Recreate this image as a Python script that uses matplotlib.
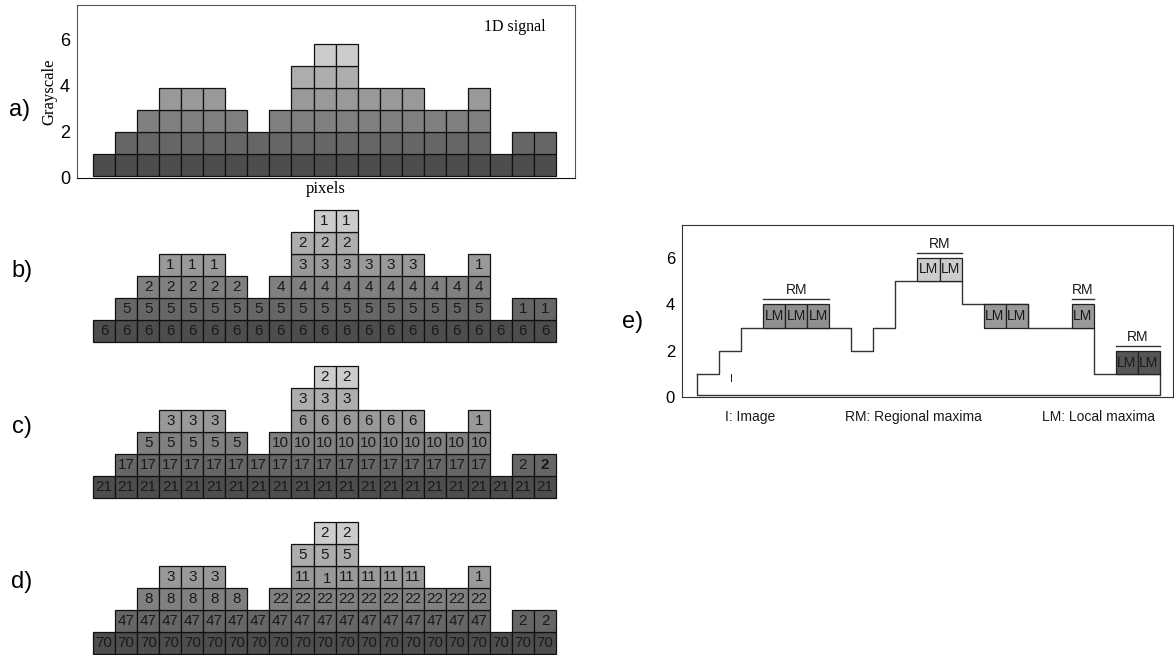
import matplotlib.pyplot as plt
from matplotlib.patches import Rectangle

# 1D signal: grayscale value of every pixel
heights = [1, 2, 3, 4, 4, 4, 3, 2, 3, 5, 6, 6, 4, 4, 4, 3, 3, 4, 1, 2, 2]
level_colors = ['#4d4d4d', '#666666', '#808080', '#999999', '#adadad', '#cccccc']

# cell labels per level (bottom row first), cells in column order
b_labels = [
    [6, 6, 6, 6, 6, 6, 6, 6, 6, 6, 6, 6, 6, 6, 6, 6, 6, 6, 6, 6, 6],
    [5, 5, 5, 5, 5, 5, 5, 5, 5, 5, 5, 5, 5, 5, 5, 5, 5, 1, 1],
    [2, 2, 2, 2, 2, 4, 4, 4, 4, 4, 4, 4, 4, 4, 4],
    [1, 1, 1, 3, 3, 3, 3, 3, 3, 1],
    [2, 2, 2],
    [1, 1],
]
c_labels = [
    [21, 21, 21, 21, 21, 21, 21, 21, 21, 21, 21, 21, 21, 21, 21, 21, 21, 21, 21, 21, 21],
    [17, 17, 17, 17, 17, 17, 17, 17, 17, 17, 17, 17, 17, 17, 17, 17, 17, 2, 2],
    [5, 5, 5, 5, 5, 10, 10, 10, 10, 10, 10, 10, 10, 10, 10],
    [3, 3, 3, 6, 6, 6, 6, 6, 6, 1],
    [3, 3, 3],
    [2, 2],
]
d_labels = [
    [70, 70, 70, 70, 70, 70, 70, 70, 70, 70, 70, 70, 70, 70, 70, 70, 70, 70, 70, 70, 70],
    [47, 47, 47, 47, 47, 47, 47, 47, 47, 47, 47, 47, 47, 47, 47, 47, 47, 2, 2],
    [8, 8, 8, 8, 8, 22, 22, 22, 22, 22, 22, 22, 22, 22, 22],
    [3, 3, 3, 11, 1, 11, 11, 11, 11, 1],
    [5, 5, 5],
    [2, 2],
]

# panel e: image profile and maxima
e_profile = [1, 2, 3, 3, 3, 3, 3, 2, 3, 5, 5, 5, 4, 4, 4, 3, 3, 3, 1, 1, 1]
lm_cols = [3, 4, 5, 10, 11, 13, 14, 17, 19, 20]
lm_levels = [3, 3, 3, 5, 5, 3, 3, 3, 1, 1]
lm_colors = ['#8f8f8f', '#8f8f8f', '#8f8f8f', '#cccccc', '#cccccc',
             '#999999', '#999999', '#999999', '#555555', '#555555']
rm_groups = [(3, 5, 4), (10, 11, 6), (17, 17, 4), (19, 20, 2)]
legend_items = ['I: Image', 'RM: Regional maxima', 'LM: Local maxima']

W, H = 1174, 655
fig = plt.figure(figsize=(W / 100, H / 100), dpi=100)
SANS = 'Liberation Sans'
SERIF = 'Liberation Serif'


def px_axes(left, top, right, bottom):
    return fig.add_axes([left / W, 1 - bottom / H, (right - left) / W, (bottom - top) / H])


def cells():
    # columns that have a cell at each level
    out = []
    for lev in range(1, 7):
        out.append([c for c, h in enumerate(heights) if h >= lev])
    return out


# ---- a) 1D signal
ax = px_axes(77, 5, 575, 178)
ax.set_xlim(-0.73, 21.86)
ax.set_ylim(0, 7.52)
box_h = 0.957
for lev, cols in enumerate(cells()):
    for c in cols:
        ax.add_patch(Rectangle((c, 0.09 + lev * box_h), 1, box_h,
                               facecolor=level_colors[lev], edgecolor='#111111', lw=0.9))
ax.set_xticks([])
ax.set_yticks([0, 2, 4, 6])
ax.tick_params(axis='y', length=0, pad=5, labelsize=13)
for lab in ax.get_yticklabels():
    lab.set_fontfamily(SANS)
ax.set_ylabel('Grayscale', fontfamily=SERIF, fontsize=12, labelpad=2)
ax.set_xlabel('pixels', fontfamily=SERIF, fontsize=12, labelpad=2)
ax.text(0.88, 0.875, '1D signal', transform=ax.transAxes, ha='center', va='center',
        fontfamily=SERIF, fontsize=11.5)
for s in ax.spines.values():
    s.set_color('#555555')
ax.spines['bottom'].set_color('#111111')

# ---- b), c), d) labelled cells
panels = [(b_labels, 210, 342), (c_labels, 366, 498), (d_labels, 522, 654)]
for labels, top, bottom in panels:
    ax = px_axes(77, top, 575, bottom)
    ax.set_xlim(-0.73, 21.86)
    ax.set_ylim(0, 6)
    ax.axis('off')
    for lev, cols in enumerate(cells()):
        for c, val in zip(cols, labels[lev]):
            ax.add_patch(Rectangle((c, lev), 1, 1, facecolor=level_colors[lev],
                                   edgecolor='#111111', lw=0.9, clip_on=False))
            dx, dy = 0.5, 0.5
            # odd cell in panel d, label shifted inside its box
            if labels is d_labels and lev == 3 and c == 10:
                dx, dy = 0.62, 0.4
            weight = 'bold' if (labels is c_labels and lev == 1 and c == 20) else 'normal'
            ax.text(c + dx, lev + dy, str(val), ha='center', va='center',
                    fontfamily=SANS, fontsize=11, color='#1a1a1a', fontweight=weight)

# ---- e) maxima
ax = px_axes(682, 225, 1173, 397.5)
ax.set_xlim(-0.68, 21.59)
ax.set_ylim(0, 7.4)
xs = list(range(len(e_profile) + 1))
ax.step(xs, e_profile + [e_profile[-1]], where='post', color='#333333', lw=1)
base = 0.1
ax.plot([0, 0, len(e_profile), len(e_profile)],
        [e_profile[0], base, base, e_profile[-1]], color='#333333', lw=1)
for c, lev, col in zip(lm_cols, lm_levels, lm_colors):
    ax.add_patch(Rectangle((c, lev), 1, 1, facecolor=col, edgecolor='#222222', lw=0.9, zorder=3))
    ax.text(c + 0.5, lev + 0.5, 'LM', ha='center', va='center', fontfamily=SANS,
            fontsize=10, color='#1a1a1a', zorder=4)
for c0, c1, top in rm_groups:
    ax.plot([c0, c1 + 1], [top + 0.22, top + 0.22], color='#333333', lw=1)
    ax.text((c0 + c1 + 1) / 2, top + 0.6, 'RM', ha='center', va='center',
            fontfamily=SANS, fontsize=10, color='#1a1a1a')
ax.text(1.55, 0.8, 'I', ha='center', va='center', fontfamily=SANS, fontsize=8, color='#222222')
ax.set_xticks([])
ax.set_yticks([0, 2, 4, 6])
ax.tick_params(axis='y', length=0, pad=5, labelsize=12)
for lab in ax.get_yticklabels():
    lab.set_fontfamily(SANS)
for s in ax.spines.values():
    s.set_color('#333333')

for txt, x in zip(legend_items, [750, 913, 1098]):
    fig.text(x / W, 1 - 417 / H, txt, ha='center', va='center', fontfamily=SANS,
             fontsize=10, color='#1a1a1a')

# panel letters
for txt, x, y in [('a)', 20, 110), ('b)', 22, 271), ('c)', 22, 427), ('d)', 22, 582), ('e)', 633, 322)]:
    fig.text(x / W, 1 - y / H, txt, ha='center', va='center', fontfamily=SANS, fontsize=17)

fig.savefig('out.png', dpi=100)
